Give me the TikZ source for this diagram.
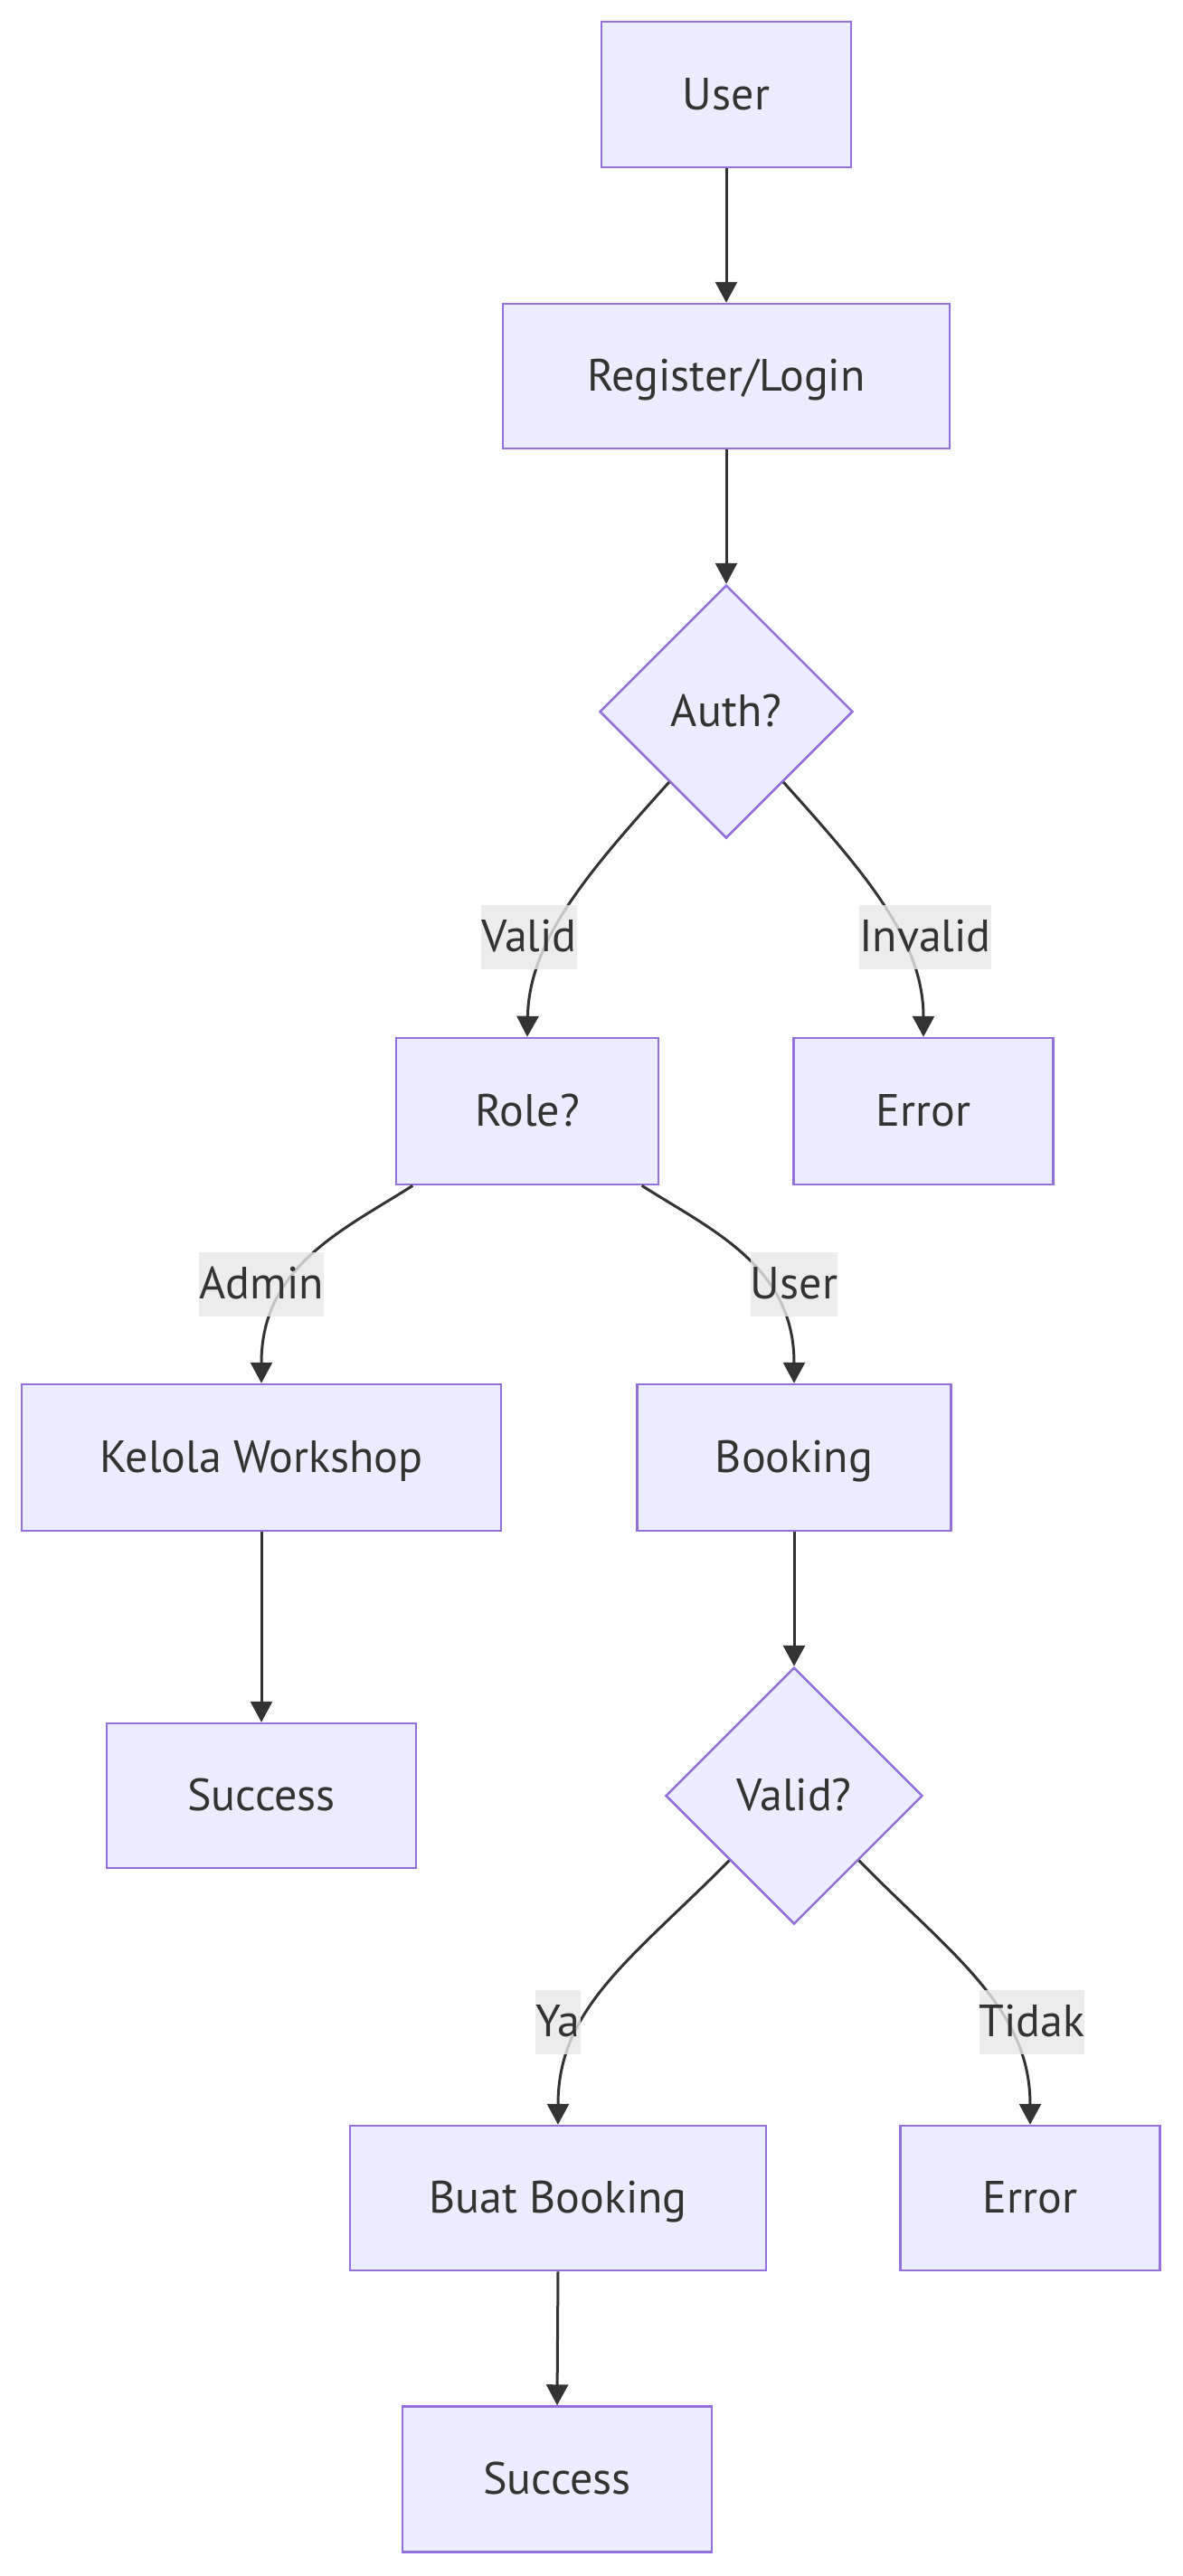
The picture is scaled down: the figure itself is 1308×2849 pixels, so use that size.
\documentclass[tikz,border=0pt]{standalone}
\usepackage{fontspec}
\setmainfont{PT Sans}
\usetikzlibrary{shapes.geometric,arrows.meta}
\definecolor{nodefill}{HTML}{ECECFF}
\definecolor{nodeline}{HTML}{9370DB}
\definecolor{edgecol}{HTML}{333333}
\definecolor{labelbg}{HTML}{E8E8E8}
\begin{document}
\begin{tikzpicture}[x=1pt,y=-1pt,
  txt/.style={text=edgecol, font=\fontsize{50}{60}\selectfont, text height=38pt, text depth=5pt},
  box/.style={txt, rectangle, draw=nodeline, fill=nodefill, line width=2.5pt, inner sep=0pt},
  dec/.style={txt, diamond, aspect=1, draw=nodeline, fill=nodefill, line width=2.5pt, inner sep=0pt},
  flow/.style={draw=edgecol, line width=3pt, -{Triangle[length=23pt,width=24pt]}},
  elabel/.style={txt, fill=labelbg, fill opacity=0.8, text opacity=1, inner xsep=0pt, inner ysep=0pt, minimum height=71pt}]
\fill[white] (0,0) rectangle (1308,2849);
\useasboundingbox (0,0) rectangle (1308,2849);

\node[box, minimum width=276pt, minimum height=161pt] (user) at (803,104.5) {User};
\node[box, minimum width=494pt, minimum height=160pt] (reg) at (803,416) {Register/Login};
\node[dec, minimum width=280pt, minimum height=280pt] (auth) at (803,787) {Auth?};
\node[box, minimum width=290pt, minimum height=162pt] (role) at (583,1229) {Role?};
\node[box, minimum width=287pt, minimum height=162pt] (err1) at (1021,1229) {Error};
\node[box, minimum width=530pt, minimum height=162pt] (kel) at (289,1612) {Kelola Workshop};
\node[box, minimum width=347pt, minimum height=162pt] (book) at (878,1612) {Booking};
\node[box, minimum width=342pt, minimum height=160pt] (succ1) at (289,1986) {Success};
\node[dec, minimum width=284pt, minimum height=284pt] (valid) at (878,1986) {Valid?};
\node[box, minimum width=460pt, minimum height=160pt] (buat) at (617,2431) {Buat Booking};
\node[box, minimum width=287pt, minimum height=160pt] (err2) at (1139,2431) {Error};
\node[box, minimum width=342pt, minimum height=161pt] (succ2) at (616,2742) {Success};

\draw[flow] (user.south) -- (reg.north);
\draw[flow] (reg.south) -- (auth.north);
\draw[flow] (auth.-129) .. controls (650,965) and (585,1040) .. (role.north);
\draw[flow] (auth.-51) .. controls (956,965) and (1021,1040) .. (err1.north);
\draw[flow] (role.-147) .. controls (380,1360) and (289,1400) .. (kel.north);
\draw[flow] (role.-33) .. controls (786,1360) and (878,1400) .. (book.north);
\draw[flow] (kel.south) -- (succ1.north);
\draw[flow] (book.south) -- (valid.north);
\draw[flow] (valid.-135) .. controls (700,2165) and (617,2220) .. (buat.north);
\draw[flow] (valid.-45) .. controls (1050,2160) and (1139,2220) .. (err2.north);
\draw[flow] (buat.south) -- (succ2.north);

\node[elabel] (lvalid) at (585,1036) {Valid};
\node[elabel] (linvalid) at (1023,1036) {Invalid};
\node[elabel] (ladmin) at (289,1420) {Admin};
\node[elabel] (luser) at (878,1420) {User};
\node[elabel] (lya) at (617,2236) {Ya};
\node[elabel] (ltidak) at (1141,2236) {Tidak};
\end{tikzpicture}
\end{document}
